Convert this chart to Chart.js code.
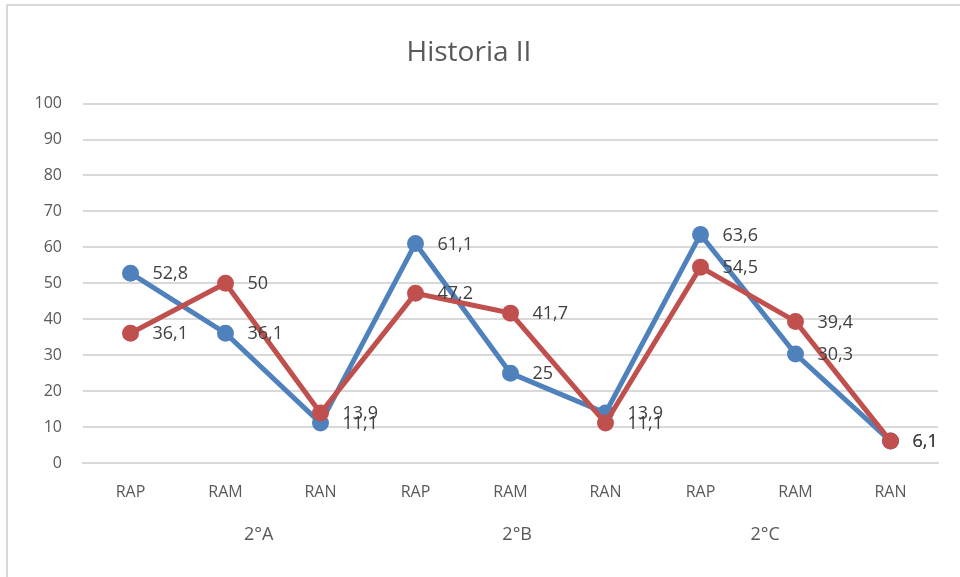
<!DOCTYPE html>
<html>
<head>
<meta charset="utf-8">
<script src="https://cdn.jsdelivr.net/npm/chart.js@4/dist/chart.umd.min.js"></script>
<style>
html,body{margin:0;padding:0;background:#fff;}
#wrap{width:960px;height:577px;position:relative;}
</style>
</head>
<body>
<div id="wrap"><canvas id="c" width="960" height="577"></canvas></div>
<script>
const categories = ["RAP","RAM","RAN","RAP","RAM","RAN","RAP","RAM","RAN"];
const groups = ["2°A","2°B","2°C"];
const seriesBlue = [52.8, 36.1, 11.1, 61.1, 25, 13.9, 63.6, 30.3, 6.1];
const seriesRed = [36.1, 50, 13.9, 47.2, 41.7, 11.1, 54.5, 39.4, 6.1];
const titleText = "Historia II";

const FONT = "'Open Sans', 'Noto Sans', sans-serif";
const fmt = v => String(v).replace('.', ',');

const borderPlugin = {
  id: 'border',
  beforeDraw(chart) {
    const ctx = chart.ctx;
    ctx.save();
    ctx.strokeStyle = '#d9d9d9';
    ctx.lineWidth = 2;
    ctx.beginPath();
    ctx.moveTo(7, 577);
    ctx.lineTo(7, 5);
    ctx.lineTo(960, 5);
    ctx.stroke();
    ctx.restore();
  }
};

const labelPlugin = {
  id: 'dlabels',
  afterDatasetsDraw(chart) {
    const ctx = chart.ctx;
    ctx.save();
    ctx.font = "18px " + FONT;
    ctx.fillStyle = '#404040';
    ctx.textBaseline = 'middle';
    ctx.textAlign = 'left';
    chart.data.datasets.forEach((ds, di) => {
      const meta = chart.getDatasetMeta(di);
      meta.data.forEach((pt, i) => {
        ctx.fillText(fmt(ds.data[i]), pt.x + 22, pt.y + 1);
      });
    });
    ctx.restore();
  }
};

const groupPlugin = {
  id: 'groups',
  afterDraw(chart) {
    const ctx = chart.ctx;
    const xs = chart.scales.x;
    const offsets = [1.35, 4.07, 6.68];
    ctx.save();
    ctx.font = "18px " + FONT;
    ctx.fillStyle = '#595959';
    ctx.textAlign = 'center';
    ctx.textBaseline = 'middle';
    groups.forEach((g, i) => {
      ctx.fillText(g, xs.getPixelForValue(offsets[i]), 535);
    });
    ctx.restore();
  }
};

new Chart(document.getElementById('c'), {
  type: 'line',
  data: {
    labels: categories,
    datasets: [
      { label: 'Blue', data: seriesBlue, borderColor: '#4f81bd', backgroundColor: '#4f81bd',
        borderWidth: 5, pointRadius: 6, pointHoverRadius: 6, tension: 0, order: 1 },
      { label: 'Red', data: seriesRed, borderColor: '#c0504d', backgroundColor: '#c0504d',
        borderWidth: 5, pointRadius: 6, pointHoverRadius: 6, tension: 0, order: 0 }
    ]
  },
  options: {
    responsive: false,
    animation: false,
    layout: { padding: { left: 0, right: 22, top: 0, bottom: 0 } },
    plugins: {
      legend: { display: false },
      tooltip: { enabled: false },
      title: {
        display: true, text: titleText, color: '#595959',
        font: { family: FONT, size: 28, weight: 'normal' },
        padding: { top: 36, bottom: 34 }
      }
    },
    scales: {
      x: {
        offset: true,
        grid: { display: false, drawTicks: false, offset: true },
        border: { display: true, color: '#d9d9d9', width: 2 },
        ticks: { color: '#595959', font: { family: FONT, size: 16 }, padding: 20, maxRotation: 0, autoSkip: false },
        afterFit(s) { s.height = 114; }
      },
      y: {
        min: 0, max: 100,
        grid: { color: '#d9d9d9', lineWidth: 2, drawTicks: false },
        border: { display: false },
        ticks: { stepSize: 10, color: '#595959', font: { family: FONT, size: 16 }, padding: 21 },
        afterFit(s) { s.width = 83; }
      }
    }
  },
  plugins: [borderPlugin, labelPlugin, groupPlugin]
});
</script>
</body>
</html>
